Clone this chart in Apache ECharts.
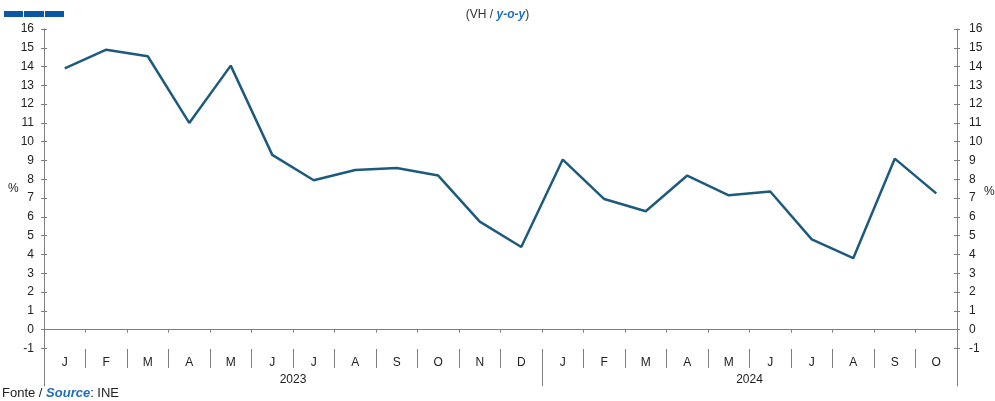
<!DOCTYPE html>
<html>
<head>
<meta charset="utf-8">
<script src="https://cdn.jsdelivr.net/npm/echarts@6/dist/echarts.min.js"></script>
<style>
  html, body { margin: 0; padding: 0; background: #fff; }
  #chart { width: 995px; height: 401px; }
</style>
</head>
<body>
<div id="chart"></div>
<script>
  // meses (2023: jan-dez, 2024: jan-out)
  const months = ['J', 'F', 'M', 'A', 'M', 'J', 'J', 'A', 'S', 'O', 'N', 'D',
    'J', 'F', 'M', 'A', 'M', 'J', 'J', 'A', 'S', 'O'];
  const yoyValues = [13.9, 14.9, 14.55, 11.0, 14.05, 9.3, 7.95, 8.5, 8.6, 8.2, 5.75, 4.4,
    9.05, 6.95, 6.3, 8.2, 7.15, 7.35, 4.8, 3.8, 9.1, 7.25];
  const years = ['2023', '2024'];
  const yearMonths = [12, 10];
  const yTicks = [-1, 0, 1, 2, 3, 4, 5, 6, 7, 8, 9, 10, 11, 12, 13, 14, 15, 16];

  const axisGray = '#7f7f7f';
  const labelColor = '#222';
  const font = 'Liberation Sans, Arial, sans-serif';

  // posicao do rotulo do ano = meio do bloco de meses
  const yearCenters = [];
  const yearBreaks = [];
  let acc = 0;
  yearMonths.forEach((n, i) => {
    yearCenters.push(acc + n / 2);
    acc += n;
    if (i < yearMonths.length - 1) yearBreaks.push(acc);
  });

  const yAxisBase = {
    type: 'value',
    min: -3,
    max: 16,
    interval: 1,
    splitLine: { show: false },
  };

  const chart = echarts.init(document.getElementById('chart'));
  chart.setOption({
    animation: false,
    grid: { left: 44, right: 38, top: 29, bottom: 15 },
    graphic: [
      { type: 'rect', shape: { x: 4, y: 11, width: 19, height: 6 }, style: { fill: '#0b57a4' } },
      { type: 'rect', shape: { x: 24, y: 11, width: 20, height: 6 }, style: { fill: '#0b57a4' } },
      { type: 'rect', shape: { x: 45, y: 11, width: 19, height: 6 }, style: { fill: '#0b57a4' } },
      {
        type: 'text', left: 'center', top: 9,
        style: {
          text: '(VH / {b|y-o-y})', fontSize: 12, fontFamily: font, fill: '#333',
          rich: { b: { fontSize: 12, fontFamily: font, fontStyle: 'italic', fontWeight: 'bold', fill: '#1f6fb8' } },
        },
      },
      { type: 'text', x: 8, y: 183, style: { text: '%', fontSize: 12, fontFamily: font, fill: labelColor } },
      { type: 'text', x: 984, y: 186, style: { text: '%', fontSize: 12, fontFamily: font, fill: labelColor } },
      {
        type: 'text', x: 2, y: 387,
        style: {
          text: 'Fonte / {s|Source}: INE', fontSize: 13, fontFamily: font, fill: '#222',
          rich: { s: { fontSize: 13, fontFamily: font, fontStyle: 'italic', fontWeight: 'bold', fill: '#1f6fb8' } },
        },
      },
    ],
    xAxis: [
      {
        type: 'category',
        data: months,
        boundaryGap: true,
        axisLine: { onZero: true, onZeroAxisIndex: 0, lineStyle: { color: axisGray, width: 1 } },
        axisTick: { show: true, interval: 0, length: 3, lineStyle: { color: axisGray } },
        axisLabel: { show: false },
        splitLine: { show: false },
      },
      {
        type: 'category',
        data: months,
        position: 'bottom',
        offset: -37,
        boundaryGap: true,
        axisLine: { show: false, onZero: false },
        axisTick: { show: true, interval: 0, length: 19, lineStyle: { color: axisGray } },
        axisLabel: { interval: 0, margin: 8, fontSize: 12, fontFamily: font, color: labelColor },
        splitLine: { show: false },
      },
      {
        type: 'value',
        min: 0,
        max: months.length,
        position: 'bottom',
        offset: -37,
        axisLine: { show: false, onZero: false },
        axisTick: { show: true, customValues: yearBreaks, length: 37, lineStyle: { color: axisGray } },
        axisLabel: {
          customValues: yearCenters, margin: 25, fontSize: 12, fontFamily: font, color: labelColor,
          formatter: (v) => years[yearCenters.indexOf(v)] || '',
        },
        splitLine: { show: false },
      },
    ],
    yAxis: [
      {
        ...yAxisBase,
        position: 'left',
        axisLine: { show: true, lineStyle: { color: axisGray } },
        axisTick: { show: true, customValues: yTicks, length: 3, lineStyle: { color: axisGray } },
        axisLabel: { customValues: yTicks, margin: 10, fontSize: 12, fontFamily: font, color: labelColor },
      },
      {
        ...yAxisBase,
        position: 'left',
        axisLine: { show: false },
        axisTick: { show: true, inside: true, customValues: yTicks, length: 3, lineStyle: { color: axisGray } },
        axisLabel: { show: false },
      },
      {
        ...yAxisBase,
        position: 'right',
        axisLine: { show: true, lineStyle: { color: axisGray } },
        axisTick: { show: true, customValues: yTicks, length: 3, lineStyle: { color: axisGray } },
        axisLabel: { customValues: yTicks, margin: 12, fontSize: 12, fontFamily: font, color: labelColor },
      },
      {
        ...yAxisBase,
        position: 'right',
        axisLine: { show: false },
        axisTick: { show: true, inside: true, customValues: yTicks, length: 3, lineStyle: { color: axisGray } },
        axisLabel: { show: false },
      },
    ],
    series: [
      {
        type: 'line',
        xAxisIndex: 0,
        yAxisIndex: 0,
        data: yoyValues,
        symbol: 'none',
        lineStyle: { color: '#1d5b7e', width: 2.5 },
      },
    ],
  });
</script>
</body>
</html>
